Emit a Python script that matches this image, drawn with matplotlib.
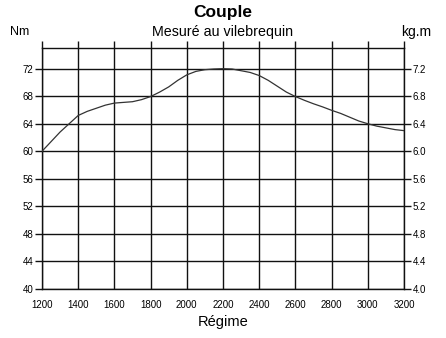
import matplotlib.pyplot as plt

plt.rcParams['font.family'] = ['Liberation Sans', 'DejaVu Sans']

# régime (tr/min) et couple (Nm), relevés tous les 50 tr/min
regime = list(range(1200, 3201, 50))
couple = [60.0, 61.4, 62.8, 64.0, 65.2, 65.8, 66.25, 66.7, 67.0, 67.1, 67.2,
          67.5, 67.95, 68.6, 69.35, 70.3, 71.1, 71.6, 71.85, 71.95, 72.0,
          71.95, 71.7, 71.45, 71.0, 70.3, 69.45, 68.6, 67.95, 67.4, 66.9,
          66.45, 65.95, 65.5, 64.95, 64.4, 64.0, 63.65, 63.4, 63.15, 63.0]

nm_ticks = [40, 44, 48, 52, 56, 60, 64, 68, 72]
kgm_ticks = [4.0, 4.4, 4.8, 5.2, 5.6, 6.0, 6.4, 6.8, 7.2]
x_ticks = list(range(1200, 3201, 200))

fig = plt.figure(figsize=(4.46, 3.38), dpi=100)
ax = fig.add_axes([42/446, 1 - 289/338, 362/446, 241/338])

ax.plot(regime, couple, color='#333333', lw=0.9, zorder=3)

ax.set_xlim(1200, 3200)
ax.set_ylim(40, 75)
ax.set_xticks(x_ticks)
ax.set_yticks(nm_ticks)
ax.grid(True, color='#111111', lw=1.0)
for s in ax.spines.values():
    s.set_color('#111111')
    s.set_linewidth(1.0)

ax.tick_params(axis='y', direction='out', length=5, width=1.0, color='#111111',
               labelsize=7, pad=1)
ax.tick_params(axis='x', bottom=False, top=True, labeltop=False, labelbottom=True,
               direction='out', length=5, width=1.0, color='#111111',
               labelsize=7, pad=3)

ax2 = ax.twinx()
ax2.set_ylim(4.0, 7.5)
ax2.set_yticks(kgm_ticks)
ax2.set_yticklabels([f'{v:.1f}' for v in kgm_ticks])
ax2.tick_params(axis='y', direction='out', length=5, width=1.0, color='#111111',
                labelsize=7, pad=1)
for s in ax2.spines.values():
    s.set_visible(False)

fig.text(0.5, 1 - 13/338, 'Couple', ha='center', va='center',
         fontsize=12.5, fontweight='bold')
fig.text(0.5, 1 - 32/338, 'Mesuré au vilebrequin', ha='center', va='center',
         fontsize=10.3)
fig.text(20/446, 1 - 32/338, 'Nm', ha='center', va='center', fontsize=9)
fig.text(416/446, 1 - 32/338, 'kg.m', ha='center', va='center', fontsize=10)
fig.text(0.5, 1 - 322/338, 'Régime', ha='center', va='center', fontsize=10.5)

fig.savefig('out.png', dpi=100, facecolor='white')
